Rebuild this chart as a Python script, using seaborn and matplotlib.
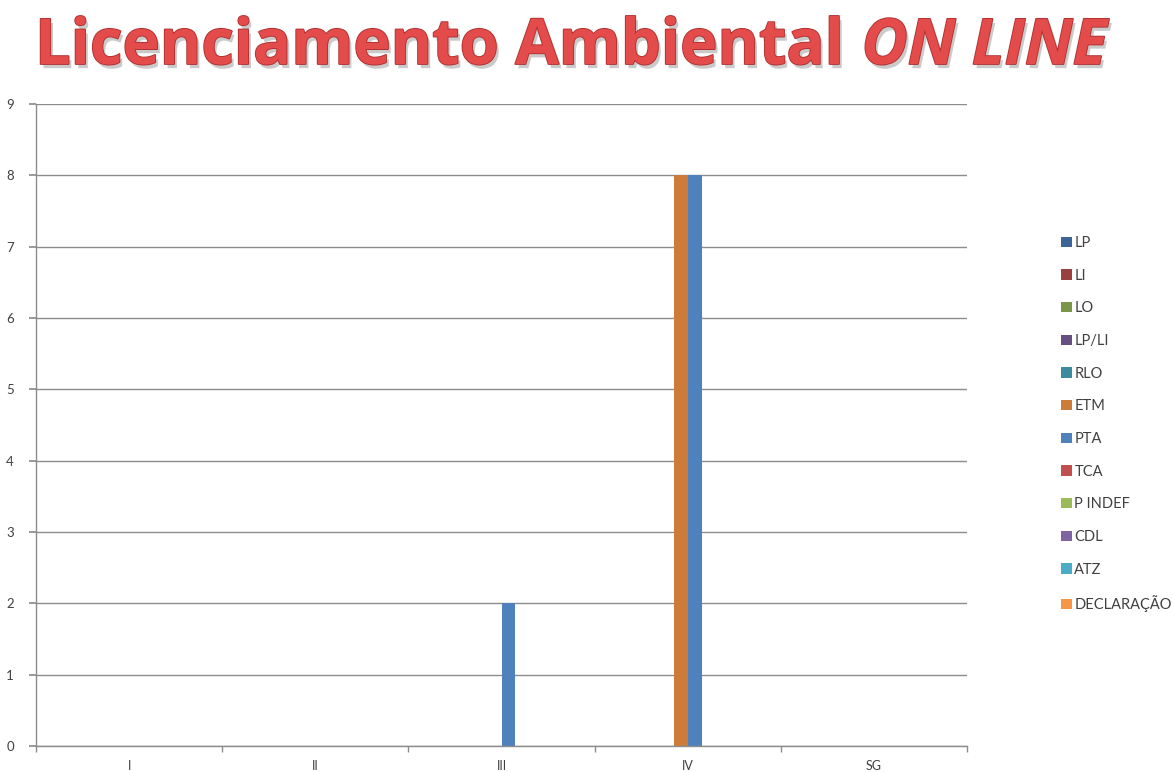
import matplotlib
matplotlib.use("Agg")
import matplotlib.pyplot as plt
import matplotlib.patheffects as pe
from matplotlib.patches import Patch
import seaborn as sns
import pandas as pd

# Regions on the x axis
regioes = ["I", "II", "III", "IV", "SG"]

# Licence types (legend order) and their colours
tipos = ["LP", "LI", "LO", "LP/LI", "RLO", "ETM", "PTA", "TCA",
         "P INDEF", "CDL", "ATZ", "DECLARAÇÃO"]
cores = ["#3C6496", "#9A403E", "#7C9647", "#665082", "#3C8A9E", "#CD7B38",
         "#4F81BD", "#C0504D", "#9BBB59", "#8064A2", "#4BACC6", "#F79646"]

# Number of processes per type, one value per region
lp = [0, 0, 0, 0, 0]
li = [0, 0, 0, 0, 0]
lo = [0, 0, 0, 0, 0]
lp_li = [0, 0, 0, 0, 0]
rlo = [0, 0, 0, 0, 0]
etm = [0, 0, 0, 8, 0]
pta = [0, 0, 2, 8, 0]
tca = [0, 0, 0, 0, 0]
p_indef = [0, 0, 0, 0, 0]
cdl = [0, 0, 0, 0, 0]
atz = [0, 0, 0, 0, 0]
declaracao = [0, 0, 0, 0, 0]

series = [lp, li, lo, lp_li, rlo, etm, pta, tca, p_indef, cdl, atz, declaracao]

rows = []
for tipo, vals in zip(tipos, series):
    for reg, v in zip(regioes, vals):
        rows.append({"Região": reg, "Tipo": tipo, "Quantidade": v})
df = pd.DataFrame(rows)

sns.set_theme(style="white")
plt.rcParams["font.family"] = ["Lato", "DejaVu Sans"]

fig = plt.figure(figsize=(11.74, 7.72), dpi=100)
ax = fig.add_axes([36 / 1174, 1 - 746 / 772, (967 - 36) / 1174, (746 - 104) / 772])

sns.barplot(data=df, x="Região", y="Quantidade", hue="Tipo",
            hue_order=tipos, order=regioes, palette=cores, saturation=1,
            width=0.89, linewidth=0, legend=False, ax=ax)

ax.set_ylim(0, 9)
ax.set_xlim(-0.5, 4.5)
ax.set_yticks(range(0, 10))
ax.yaxis.grid(True, color="#8C8C8C", linewidth=1)
ax.set_axisbelow(True)
ax.set_xlabel("")
ax.set_ylabel("")

for side in ["top", "right"]:
    ax.spines[side].set_visible(False)
for side in ["left", "bottom"]:
    ax.spines[side].set_color("#8C8C8C")
    ax.spines[side].set_linewidth(1)

ax.tick_params(axis="y", left=True, length=5, color="#8C8C8C",
               labelsize=9.5, labelcolor="#404040", pad=11)
ax.tick_params(axis="x", bottom=False, labelsize=9,
               labelcolor="#404040", pad=4)
ax.set_xticks([i + 0.5 for i in range(-1, 5)], minor=True)
ax.tick_params(axis="x", which="minor", bottom=True, length=4,
               color="#8C8C8C")

# Legend with square markers
handles = [Patch(facecolor=c, edgecolor="none") for c in cores]
fig.legend(handles, tipos, loc="upper left",
           bbox_to_anchor=(1061 / 1174, 1 - 236 / 772),
           frameon=False, fontsize=10.5, labelcolor="#404040",
           handlelength=0.72, handleheight=0.72, handletextpad=0.2,
           labelspacing=1.28, borderaxespad=0, borderpad=0)

# Title: bold red text with outline and drop shadow
efeitos = [pe.SimplePatchShadow(offset=(2, -3), shadow_rgbFace="#A0A0A0", alpha=0.55),
           pe.Stroke(linewidth=1.3, foreground="#B03030"),
           pe.Normal()]
titulo_fonte = ["Open Sans", "DejaVu Sans"]
t1 = fig.text(35 / 1174, 1 - 64 / 772, "Licenciamento Ambiental ",
              fontsize=45.5, fontweight="bold", color="#E44B4B", family=titulo_fonte,
              va="baseline", ha="left", path_effects=efeitos)
fig.canvas.draw()
bb = t1.get_window_extent(renderer=fig.canvas.get_renderer())
fig.text(bb.x1 / fig.bbox.width, 1 - 64 / 772, "ON LINE",
         fontsize=45.5, fontweight="bold", fontstyle="italic", color="#E44B4B",
         family=titulo_fonte, va="baseline", ha="left", path_effects=efeitos)

fig.savefig("out.png", dpi=100, facecolor="white")
